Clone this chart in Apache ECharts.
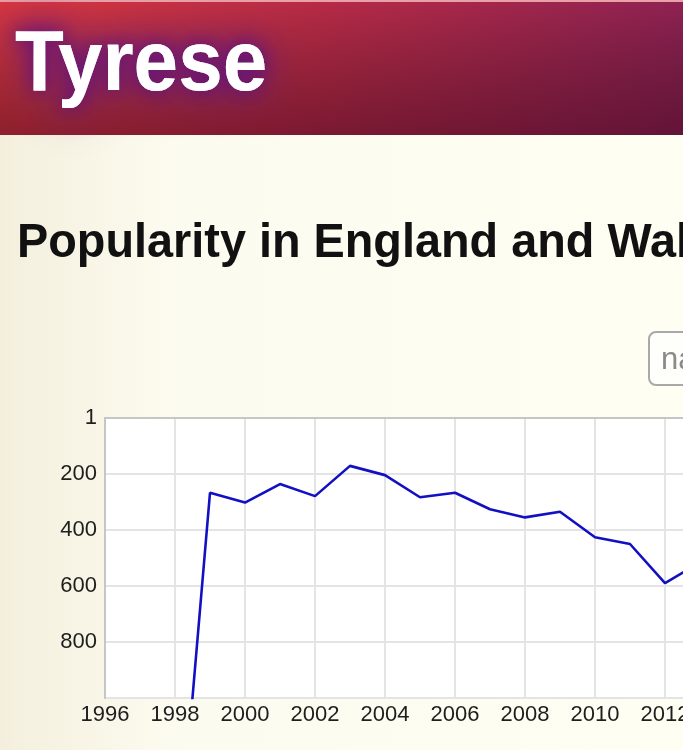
<!DOCTYPE html>
<html>
<head>
<meta charset="utf-8">
<script src="https://cdn.jsdelivr.net/npm/echarts@6/dist/echarts.min.js"></script>
<style>
html,body{margin:0;padding:0;background:#fdfcf0;overflow:hidden;}
#chart{width:683px;height:750px;}
</style>
</head>
<body>
<div id="chart"></div>
<script>
// Data
var years = [1998, 1999, 2000, 2001, 2002, 2003, 2004, 2005, 2006, 2007, 2008, 2009, 2010, 2011, 2012, 2013];
var ranks = [1730, 267, 302, 236, 279, 171, 204, 283, 267, 326, 355, 335, 426, 450, 590, 515];
var yTicks = [0, 200, 400, 600, 800, 1000];
var yTickLabels = ['1', '200', '400', '600', '800', ''];
var nameTitle = 'Tyrese';
var chartTitle = 'Popularity in England and Wales';
var buttonLabel = 'na';

var chart = echarts.init(document.getElementById('chart'), null, {renderer: 'canvas'});
var seriesData = years.map(function (y, i) { return [y, ranks[i]]; });
var font = '"Liberation Sans", Arial, sans-serif';

function glowText(z, blur, color) {
  return {
    type: 'text', z: z, x: 15, y: 25, scaleX: 0.92, scaleY: 0.97,
    style: {
      text: nameTitle,
      fill: '#ffffff',
      font: 'bold 87px ' + font,
      textShadowColor: color,
      textShadowBlur: blur,
      textShadowOffsetX: 0,
      textShadowOffsetY: 0
    }
  };
}

chart.setOption({
  backgroundColor: {
    type: 'linear', x: 0, y: 0, x2: 1, y2: 0,
    colorStops: [
      {offset: 0, color: '#f4efdd'},
      {offset: 0.25, color: '#fcfbef'},
      {offset: 1, color: '#fefef3'}
    ]
  },
  animation: false,
  graphic: [
    {
      type: 'rect', left: 0, top: 2, z: 0,
      shape: {width: 683, height: 133},
      style: {
        fill: {
          type: 'linear', x: 0, y: 0, x2: 1, y2: 0,
          colorStops: [
            {offset: 0, color: '#d8363f'},
            {offset: 0.45, color: '#b82b46'},
            {offset: 1, color: '#8e2252'}
          ]
        }
      }
    },
    {
      type: 'rect', left: 0, top: 2, z: 1,
      shape: {width: 683, height: 133},
      style: {
        fill: {
          type: 'linear', x: 0, y: 0, x2: 0, y2: 1,
          colorStops: [
            {offset: 0, color: 'rgba(0,0,0,0)'},
            {offset: 1, color: 'rgba(40,0,20,0.42)'}
          ]
        }
      }
    },
    {
      type: 'rect', left: 0, top: 0, z: 1,
      shape: {width: 683, height: 2},
      style: {fill: '#e9a0a6'}
    },
    glowText(2, 45, 'rgba(100,20,120,1)'),
    glowText(3, 30, 'rgba(100,20,120,1)'),
    glowText(4, 16, 'rgba(100,20,120,0.9)'),
    {
      type: 'text', z: 3, x: 17, y: 219, scaleX: 0.918, scaleY: 0.96,
      style: {
        text: chartTitle,
        fill: '#111111',
        font: 'bold 51px ' + font
      }
    },
    {
      type: 'rect', z: 3, x: 649, y: 332,
      shape: {width: 100, height: 53, r: 7},
      style: {fill: '#fefefb', stroke: '#a9a9a9', lineWidth: 2}
    },
    {
      type: 'text', z: 4, x: 661, y: 345,
      style: {
        text: buttonLabel,
        fill: '#8a8a8a',
        font: '31px ' + font
      }
    }
  ],
  grid: {
    left: 105, top: 418, bottom: 52, right: -52,
    outerBoundsMode: 'none',
    containLabel: false,
    show: true,
    backgroundColor: '#ffffff',
    borderColor: '#c6c6c6',
    borderWidth: 2
  },
  xAxis: {
    type: 'value', min: 1996, max: 2014, interval: 2,
    axisLine: {show: true, lineStyle: {color: '#c6c6c6', width: 2}},
    axisTick: {show: false},
    splitLine: {show: true, lineStyle: {color: '#e4e4e4', width: 2}},
    axisLabel: {
      color: '#1e1e1e', fontSize: 22, fontFamily: font, margin: 6,
      formatter: function (v) { return String(v); }
    }
  },
  yAxis: {
    type: 'value', inverse: true, min: 0, max: 1000, interval: 200,
    axisLine: {show: true, lineStyle: {color: '#c6c6c6', width: 2}},
    axisTick: {show: false},
    splitLine: {show: true, lineStyle: {color: '#e4e4e4', width: 2}},
    axisLabel: {
      color: '#1e1e1e', fontSize: 22, fontFamily: font, margin: 8,
      formatter: function (v) {
        var i = yTicks.indexOf(v);
        return i >= 0 ? yTickLabels[i] : '';
      }
    }
  },
  series: [{
    type: 'line',
    data: seriesData,
    clip: true,
    symbol: 'none',
    lineStyle: {color: '#1210c2', width: 2.6},
    z: 5
  }]
});
</script>
</body>
</html>
